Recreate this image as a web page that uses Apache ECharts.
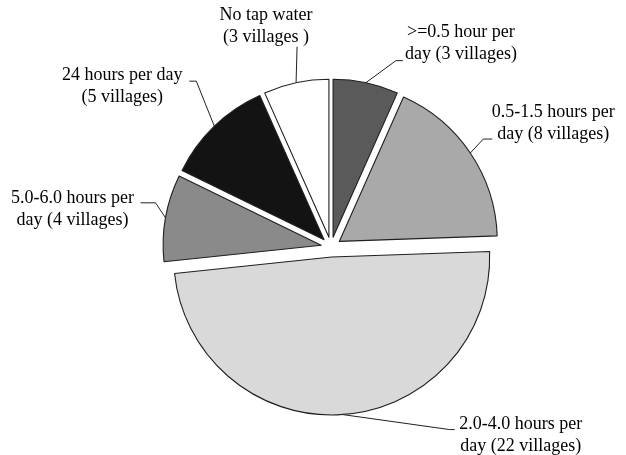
<!DOCTYPE html>
<html>
<head>
<meta charset="utf-8">
<script src="https://cdn.jsdelivr.net/npm/echarts@6/dist/echarts.min.js"></script>
<style>
  html, body { margin: 0; padding: 0; background: #ffffff; }
  #chart { width: 626px; height: 455px; }
</style>
</head>
<body>
<div id="chart"></div>
<script>
// Villages by daily tap-water supply, clockwise from 12 o'clock
const categories = [
  '>=0.5 hour per day',
  '0.5-1.5 hours per day',
  '2.0-4.0 hours per day',
  '5.0-6.0 hours per day',
  '24 hours per day',
  'No tap water'
];
const villages = [3, 8, 22, 4, 5, 3];
const sliceColors = ['#5a5a5a', '#a9a9a9', '#d9d9d9', '#8a8a8a', '#131313', '#ffffff'];

// Two-line label text; {n} is replaced with the village count
const labelTop = ['>=0.5 hour per', '0.5-1.5 hours per', '2.0-4.0 hours per', '5.0-6.0 hours per', '24 hours per day', 'No tap water'];
const labelBottom = ['day ({n} villages)', 'day ({n} villages)', 'day ({n} villages)', 'day ({n} villages)', '({n} villages)', '({n} villages )'];

// Pie geometry (px)
const CX = 331, CY = 247, R = 158, EXPLODE = 10;

// Leader routing per slice: elbow relative to the arc midpoint,
// horizontal run after the elbow, and text-block centre relative to the line end
const leaders = [
  { knee: [30, -22],  run: 7,   text: [58, -17] },
  { knee: [13, -14],  run: 9,   text: [61, -16] },
  { knee: [107, 15],  run: 5,   text: [66, 6] },
  { knee: [-10, -15], run: -15, text: [-68, 6] },
  { knee: [-18, -45], run: -7,  text: [-67, 5] },
  { knee: [1, -36],   run: 0,   text: [-31, -20] }
];

const total = villages.reduce((a, b) => a + b, 0);

// Arc midpoint of an exploded slice, in page pixels
function arcMid(i) {
  let before = 0;
  for (let k = 0; k < i; k++) before += villages[k];
  const mid = (before + villages[i] / 2) / total * 2 * Math.PI; // clockwise from top
  const dx = Math.sin(mid), dy = -Math.cos(mid);
  return [CX + (R + EXPLODE) * dx, CY + (R + EXPLODE) * dy];
}

const labelFont = {
  fontFamily: 'Liberation Serif',
  fontSize: 18,
  lineHeight: 22,
  color: '#000000'
};

const chart = echarts.init(document.getElementById('chart'), null, { renderer: 'canvas' });

chart.setOption({
  backgroundColor: '#ffffff',
  animation: false,
  series: [
    // Exploded slices
    {
      type: 'pie',
      center: [CX, CY],
      radius: R,
      startAngle: 90,
      clockwise: true,
      selectedMode: 'multiple',
      selectedOffset: EXPLODE,
      emphasis: { disabled: true },
      itemStyle: { borderColor: '#1f1f1f', borderWidth: 1.1 },
      label: { show: false },
      labelLine: { show: false },
      data: categories.map((name, i) => ({
        name: name,
        value: villages[i],
        selected: true,
        itemStyle: { color: sliceColors[i] }
      }))
    },
    // Callout labels with leader lines
    {
      type: 'pie',
      silent: true,
      center: [CX, CY],
      radius: R,
      startAngle: 90,
      clockwise: true,
      avoidLabelOverlap: false,
      emphasis: { disabled: true },
      itemStyle: { color: 'rgba(0,0,0,0)', borderWidth: 0 },
      label: Object.assign({
        show: true,
        position: 'outside',
        formatter: p => labelTop[p.dataIndex] + '\n' + labelBottom[p.dataIndex].replace('{n}', p.value)
      }, labelFont),
      labelLine: {
        show: true,
        smooth: false,
        lineStyle: { color: '#222222', width: 1 }
      },
      labelLayout: params => {
        const i = params.dataIndex;
        const a = arcMid(i);
        const L = leaders[i];
        const knee = [a[0] + L.knee[0], a[1] + L.knee[1]];
        const end = [knee[0] + L.run, knee[1]];
        return {
          x: end[0] + L.text[0],
          y: end[1] + L.text[1],
          align: 'center',
          verticalAlign: 'middle',
          labelLinePoints: [a, knee, end]
        };
      },
      data: categories.map((name, i) => ({ name: name, value: villages[i] }))
    }
  ]
});
</script>
</body>
</html>
